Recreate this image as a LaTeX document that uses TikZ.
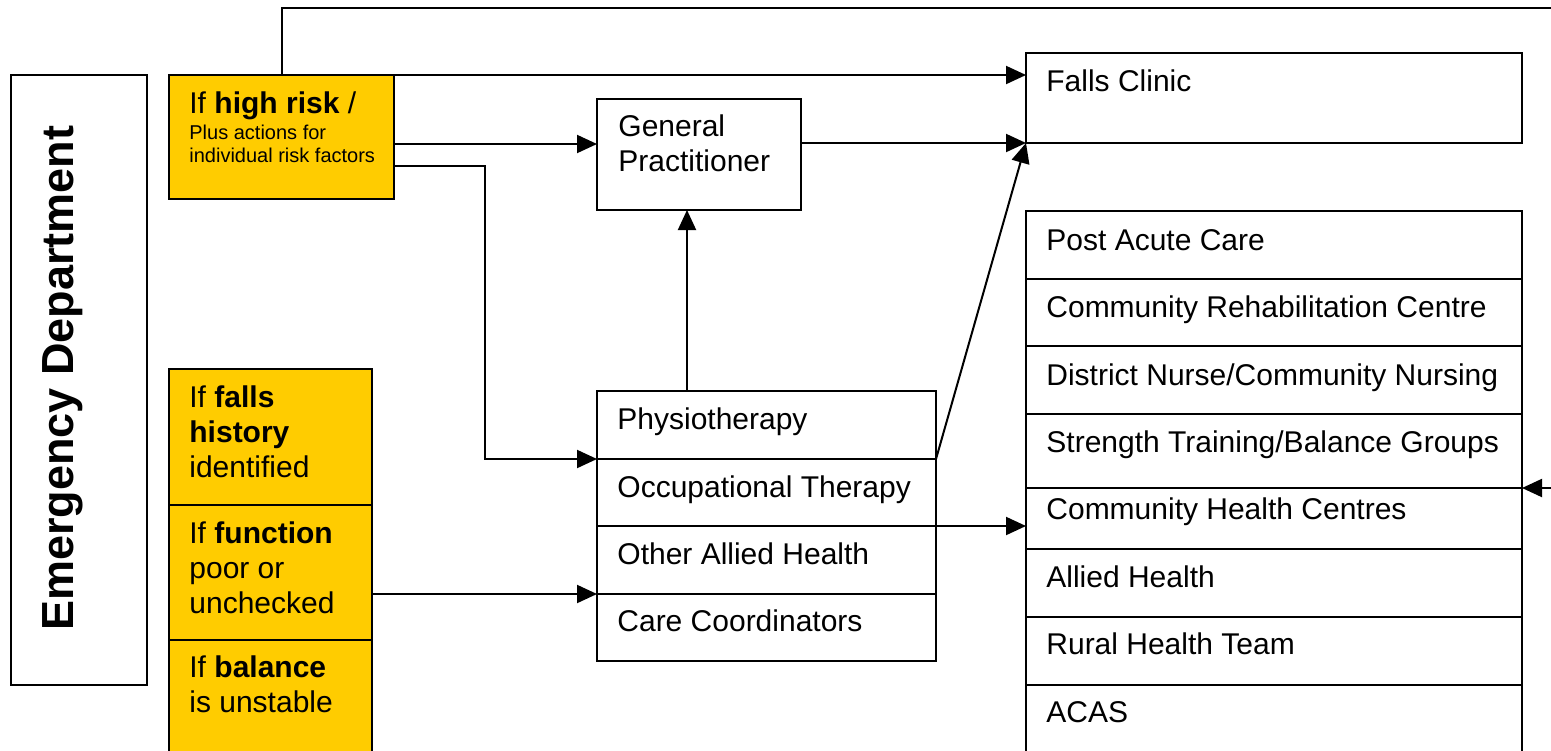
\documentclass[tikz,border=0pt]{standalone}
\usepackage{fontspec}
\setmainfont{Liberation Sans}
\usetikzlibrary{arrows.meta,positioning}
\definecolor{riskyellow}{RGB}{255,204,0}
\tikzstyle{box}  = [draw, line width=1pt, rectangle, inner sep=0pt, outer sep=0pt, anchor=north west]
\tikzstyle{risk} = [box, fill=riskyellow]
\tikzstyle{txt}  = [anchor=base west, inner sep=0pt, font=\fontsize{15}{17.5}\selectfont]
\tikzstyle{mtxt} = [anchor=north west, inner sep=0pt, align=left, font=\fontsize{15}{17.5}\selectfont]
\tikzstyle{arr}  = [-{Triangle[length=10pt,width=9pt]}, line width=1pt]

\begin{document}
\begin{tikzpicture}[x=0.5pt, y=-0.5pt]
\useasboundingbox (0,0) rectangle (1551,750);
\node[box, minimum width=68pt, minimum height=305pt] (ed) at (11,75) {};
\node[anchor=base west, rotate=90, inner sep=0pt, font=\fontsize{22.5}{27}\selectfont\bfseries]
  at ([shift={(62,556)}]ed.north west) {Emergency Department};
\node[risk, minimum width=112.5pt, minimum height=62pt] (hr) at (169,75) {};
\node[risk, minimum width=101.5pt, minimum height=68pt] (yfh) at (169,369) {};
\node[risk, minimum width=101.5pt, minimum height=67.5pt, below=0pt of yfh] (yfn) {};
\node[risk, minimum width=101.5pt, minimum height=56pt, below=0pt of yfn] (yb) {};
\node[box, minimum width=102pt, minimum height=55.5pt] (gp) at (597,99) {};
\node[box, minimum width=169.5pt, minimum height=34pt] (pa) at (597,391) {};
\node[box, minimum width=169.5pt, minimum height=33.5pt, below=0pt of pa] (ot) {};
\node[box, minimum width=169.5pt, minimum height=34pt, below=0pt of ot] (oah) {};
\node[box, minimum width=169.5pt, minimum height=33.5pt, below=0pt of oah] (cc) {};
\node[box, minimum width=248pt, minimum height=45pt] (fc) at (1026,53) {};
\node[box, minimum width=248pt, minimum height=34pt] (pac) at (1026,211) {};
\node[box, minimum width=248pt, minimum height=33.5pt, below=0pt of pac] (crc) {};
\node[box, minimum width=248pt, minimum height=34pt, below=0pt of crc] (dn) {};
\node[box, minimum width=248pt, minimum height=37pt, below=0pt of dn] (stb) {};
\node[box, minimum width=248pt, minimum height=30.5pt, below=0pt of stb] (chc) {};
\node[box, minimum width=248pt, minimum height=34pt, below=0pt of chc] (ah) {};
\node[box, minimum width=248pt, minimum height=34pt, below=0pt of ah] (rht) {};
\node[box, minimum width=248pt, minimum height=34pt, below=0pt of rht] (acas) {};

\node[txt] at ([shift={(20,38)}]hr.north west) {If \textbf{high risk} /};
\node[mtxt, font=\fontsize{10}{11.5}\selectfont] at ([shift={(20,50)}]hr.north west) {Plus actions for\\individual risk factors};
\node[mtxt] at ([shift={(20,16)}]yfh.north west) {If \textbf{falls}\\\textbf{history}\\identified};
\node[mtxt] at ([shift={(20,16)}]yfn.north west) {If \textbf{function}\\poor or\\unchecked};
\node[mtxt] at ([shift={(20,15)}]yb.north west) {If \textbf{balance}\\is unstable};
\node[mtxt] at ([shift={(21,15)}]gp.north west) {General\\Practitioner};
\node[txt] at ([shift={(20,38)}]pa.north west) {Physiotherapy};
\node[txt] at ([shift={(20,38)}]ot.north west) {Occupational Therapy};
\node[txt] at ([shift={(20,38)}]oah.north west) {Other Allied Health};
\node[txt] at ([shift={(20,37)}]cc.north west) {Care Coordinators};
\node[txt] at ([shift={(20,38)}]fc.north west) {Falls Clinic};
\node[txt] at ([shift={(20,39)}]pac.north west) {Post Acute Care};
\node[txt] at ([shift={(20,38)}]crc.north west) {Community Rehabilitation Centre};
\node[txt] at ([shift={(20,39)}]dn.north west) {District Nurse/Community Nursing};
\node[txt] at ([shift={(20,38)}]stb.north west) {Strength Training/Balance Groups};
\node[txt] at ([shift={(20,31)}]chc.north west) {Community Health Centres};
\node[txt] at ([shift={(20,38)}]ah.north west) {Allied Health};
\node[txt] at ([shift={(20,37)}]rht.north west) {Rural Health Team};
\node[txt] at ([shift={(20,37)}]acas.north west) {ACAS};

\coordinate (far) at (1565,8);
\coordinate (gpin) at ([xshift=-6pt]gp.south);
\draw[arr] (hr.north) |- (far) |- (stb.south east);
\draw[arr] (hr.north east) -- (hr.north east -| fc.west);
\draw[arr] ([yshift=-3.5pt]hr.east) -- ([yshift=-3.5pt]hr.east -| gp.west);
\draw[arr] ([yshift=-14.5pt]hr.east) -- ++(91,0) |- (pa.south west);
\draw[arr] (gp.east |- fc.south west) -- (fc.south west);
\draw[arr] (pa.south east) -- (fc.south west);
\draw[arr] (gpin |- pa.north) -- (gpin);
\draw[arr] (ot.south east) -- (ot.south east -| chc.west);
\draw[arr] (yfn.east |- oah.south west) -- (oah.south west);
\end{tikzpicture}
\end{document}
